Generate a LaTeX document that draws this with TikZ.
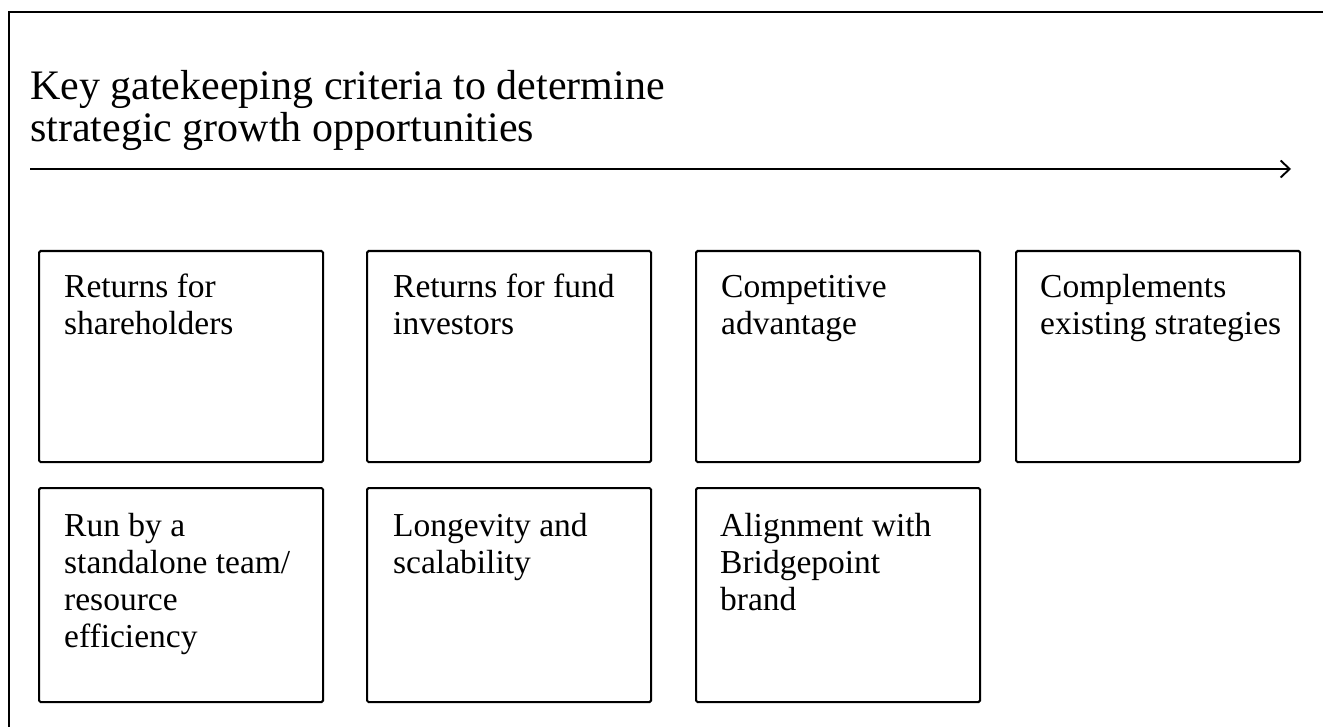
\documentclass[tikz,border=0pt]{standalone}
\usepackage{fontspec}
\setmainfont{Liberation Serif}
\usetikzlibrary{arrows.meta,calc}
\begin{document}
\begin{tikzpicture}[x=1pt,y=-1pt,
  framebox/.style={draw=black, line width=2.1pt, rounded corners=1.5pt, minimum width=284pt, minimum height=211pt, anchor=north west, inner sep=0pt},
  boxtext/.style={anchor=base west, inner sep=0pt, font=\fontsize{33.5}{37}\selectfont},
  titletext/.style={anchor=base west, inner sep=0pt, font=\fontsize{42}{40}\selectfont},
  frameline/.style={line width=2.8pt},
  gatearrow/.style={line width=1.8pt, -{Straight Barb[length=9pt,width=17pt,line width=1.9pt]}}
]
\useasboundingbox (0,0) rectangle (1323,727);
\fill[white] (0,0) rectangle (1323,727);
% outer frame (only top and left sides visible)
\draw[frameline] (9,727) -- (9,12) -- (1323,12);
% title
\node[titletext] (title) at (30,100) {\begin{tabular}[t]{@{}l@{}}Key gatekeeping criteria to determine\\strategic growth opportunities\end{tabular}};
% arrow
\coordinate (arrs) at (30,169);
\coordinate (arre) at (1291,169);
\draw[gatearrow] (arrs) -- (arre);
% row 1
\node[framebox] (b1) at (38,250) {};
\node[framebox] (b2) at (366,250) {};
\node[framebox] (b3) at (695,250) {};
\node[framebox] (b4) at (1015,250) {};
% row 2
\node[framebox, minimum height=214pt] (b5) at (38,487) {};
\node[framebox, minimum height=214pt] (b6) at (366,487) {};
\node[framebox, minimum height=214pt] (b7) at (695,487) {};
% texts
\node[boxtext] (t1) at ($(b1.north west)+(26,48)$) {\begin{tabular}[t]{@{}l@{}}Returns for\\shareholders\end{tabular}};
\node[boxtext] (t2) at ($(b2.north west)+(27,48)$) {\begin{tabular}[t]{@{}l@{}}Returns for fund\\investors\end{tabular}};
\node[boxtext] (t3) at ($(b3.north west)+(26,48)$) {\begin{tabular}[t]{@{}l@{}}Competitive\\advantage\end{tabular}};
\node[boxtext] (t4) at ($(b4.north west)+(25,48)$) {\begin{tabular}[t]{@{}l@{}}Complements\\existing strategies\end{tabular}};
\node[boxtext] (t5) at ($(b5.north west)+(26,49)$) {\begin{tabular}[t]{@{}l@{}}Run by a\\standalone team/\\resource\\efficiency\end{tabular}};
\node[boxtext] (t6) at ($(b6.north west)+(27,49)$) {\begin{tabular}[t]{@{}l@{}}Longevity and\\scalability\end{tabular}};
\node[boxtext] (t7) at ($(b7.north west)+(25,49)$) {\begin{tabular}[t]{@{}l@{}}Alignment with\\Bridgepoint\\brand\end{tabular}};
\end{tikzpicture}
\end{document}
